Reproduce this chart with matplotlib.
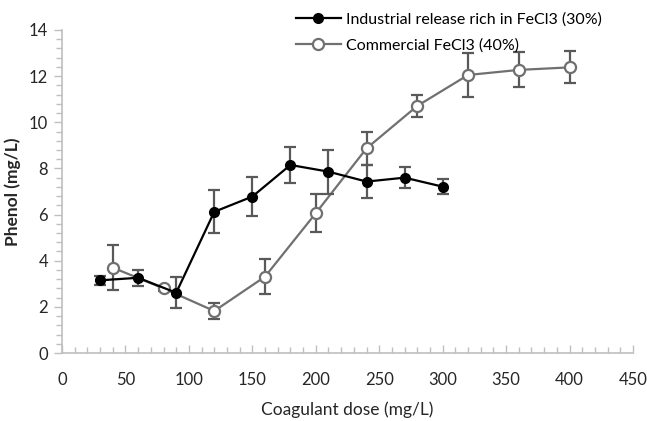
import matplotlib
matplotlib.use("Agg")
import matplotlib.pyplot as plt
from matplotlib.ticker import MultipleLocator
from matplotlib.lines import Line2D

plt.rcParams['font.family'] = ['Lato', 'DejaVu Sans']

ind_x = [30, 60, 90, 120, 150, 180, 210, 240, 270, 300]
ind_y = [3.15, 3.26, 2.61, 6.12, 6.78, 8.15, 7.86, 7.43, 7.60, 7.21]
ind_err = [0.2, 0.35, 0.67, 0.94, 0.85, 0.8, 0.95, 0.72, 0.45, 0.34]

com_x = [40, 80, 120, 160, 200, 240, 280, 320, 360, 400]
com_y = [3.70, 2.80, 1.82, 3.31, 6.06, 8.87, 10.71, 12.05, 12.27, 12.38]
com_err = [0.99, 0.1, 0.36, 0.77, 0.83, 0.71, 0.49, 0.94, 0.76, 0.69]

ind_label = "Industrial release rich in FeCl3 (30%)"
com_label = "Commercial FeCl3 (40%)"

fig = plt.figure(figsize=(6.47, 4.21), dpi=100)
ax = fig.add_axes([62/647, 68/421, 571/647, 323/421])

ax.errorbar(ind_x, ind_y, yerr=ind_err, color='black', marker='o', ms=7,
            lw=1.6, ecolor='#595959', elinewidth=1.6, capsize=4, capthick=1.6,
            zorder=3)
ax.errorbar(com_x, com_y, yerr=com_err, color='#707070', marker='o', ms=8,
            mfc='white', mec='#707070', mew=1.6, lw=1.6, ecolor='#595959',
            elinewidth=1.6, capsize=4, capthick=1.6, zorder=2)

ax.set_xlim(0, 450)
ax.set_ylim(0, 14)
ax.xaxis.set_major_locator(MultipleLocator(50))
ax.xaxis.set_minor_locator(MultipleLocator(10))
ax.yaxis.set_major_locator(MultipleLocator(2))
ax.yaxis.set_minor_locator(MultipleLocator(0.4))

for s in ['top', 'right']:
    ax.spines[s].set_visible(False)
for s in ['left', 'bottom']:
    ax.spines[s].set_color('#bfbfbf')
    ax.spines[s].set_linewidth(1.2)

ax.tick_params(axis='both', which='both', color='#bfbfbf', width=1.0,
               labelsize=12, labelcolor='#262626')
ax.tick_params(axis='y', which='major', direction='out', length=6, pad=4)
ax.tick_params(axis='y', which='minor', direction='out', length=4)
ax.tick_params(axis='x', which='major', direction='in', length=6, pad=14)
ax.tick_params(axis='x', which='minor', direction='in', length=4)

ax.set_xlabel("Coagulant dose (mg/L)", fontsize=12.5, color='#262626', labelpad=9)
ax.set_ylabel("Phenol (mg/L)", fontsize=12.5, color='#262626', fontweight='bold')
ax.yaxis.set_label_coords(-41/571, 0.5)

handles = [
    Line2D([], [], color='black', marker='o', ms=7, lw=1.6),
    Line2D([], [], color='#707070', marker='o', ms=8, mfc='white', mec='#707070', mew=1.6, lw=1.6),
]
leg = fig.legend(handles, [ind_label, com_label], loc='upper left',
                 bbox_to_anchor=(288/647, 1 - 4/421), frameon=False,
                 fontsize=11.5, handlelength=2.8, handletextpad=0.3,
                 labelspacing=0.75, borderaxespad=0.1)

fig.savefig("out.png", dpi=100)
